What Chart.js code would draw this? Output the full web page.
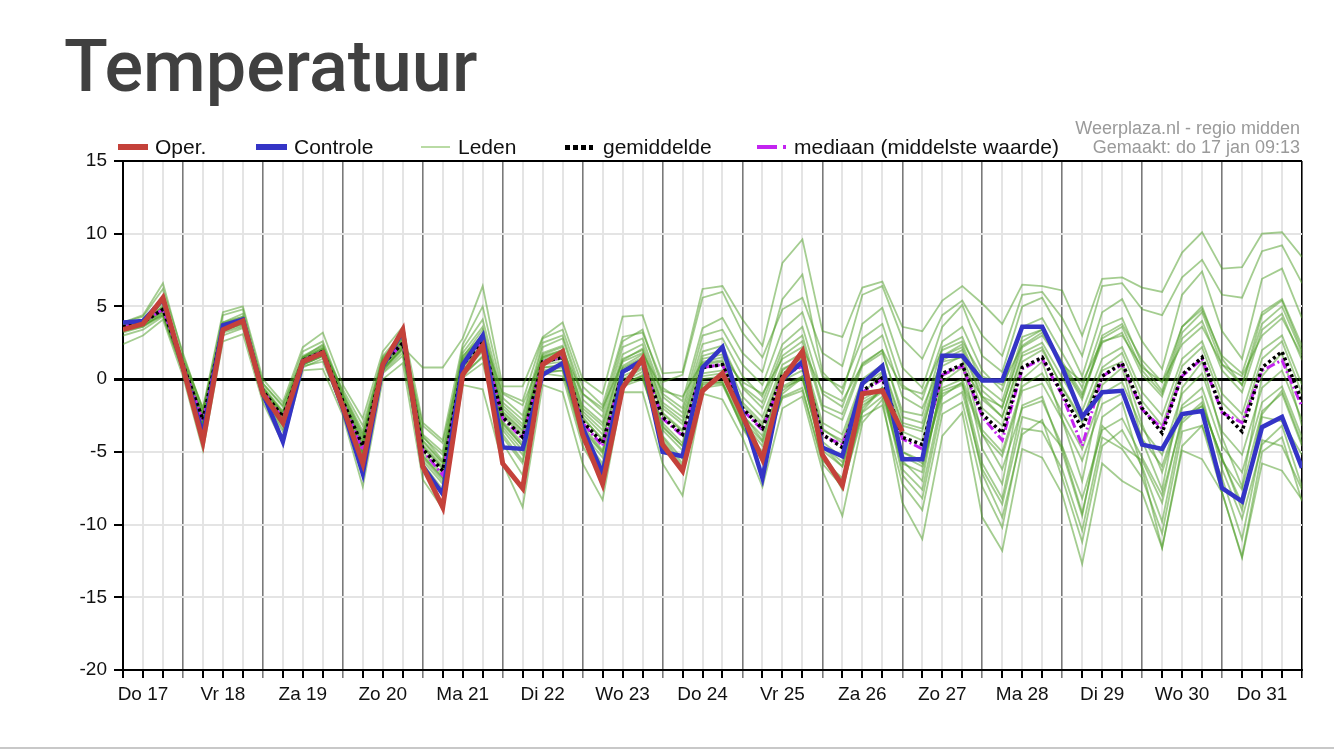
<!DOCTYPE html>
<html>
<head>
<meta charset="utf-8">
<script src="https://cdn.jsdelivr.net/npm/chart.js@4.4.1/dist/chart.umd.min.js"></script>
<style>
  html, body { margin: 0; padding: 0; background: #fff; }
  #wrap { position: relative; width: 1334px; height: 750px; overflow: hidden; font-family: 'Liberation Sans', Arial, sans-serif; }
  #title { position: absolute; left: 64px; top: 31px; font: 500 72px/72px Roboto, sans-serif; color: #404040; }
  canvas { position: absolute; left: 0; top: 0; }
  .lg { position: absolute; top: 136px; font-size: 21px; line-height: 21px; color: #111; white-space: nowrap; }
  .sw { position: absolute; }
  .note { position: absolute; right: 34px; font-size: 18px; line-height: 19px; color: #9a9a9a; text-align: right; white-space: nowrap; }
  #sep { position: absolute; left: 0; top: 747px; width: 1334px; height: 2px; background: #c8c8c8; }
</style>
</head>
<body>
<div id="wrap">
  <div id="title">Temperatuur</div>
  <canvas id="chart" width="1334" height="750"></canvas>

  <div class="sw" style="left:118px;top:144px;width:30px;height:6px;background:#c4413a"></div>
  <div class="lg" style="left:155px">Oper.</div>
  <div class="sw" style="left:256px;top:144px;width:31px;height:6px;background:#3434c6"></div>
  <div class="lg" style="left:294px">Controle</div>
  <div class="sw" style="left:421px;top:146px;width:29px;height:2px;background:#b9dba4"></div>
  <div class="lg" style="left:458px">Leden</div>
  <div class="sw" style="left:565px;top:145px;width:28px;height:5px;background:repeating-linear-gradient(90deg,#000 0 5px,transparent 5px 8px)"></div>
  <div class="lg" style="left:603px">gemiddelde</div>
  <div class="sw" style="left:757px;top:145px;width:31px;height:4px;background:linear-gradient(90deg,#c324f0 0 20px,transparent 20px 26px,#c324f0 26px 29px,transparent 29px)"></div>
  <div class="lg" style="left:794px">mediaan (middelste waarde)</div>

  <div class="note" style="top:119px">Weerplaza.nl - regio midden</div>
  <div class="note" style="top:138px">Gemaakt: do 17 jan 09:13</div>
  <div id="sep"></div>
</div>

<script>
'use strict';

// ── Axis: hours after Do 17 00:00, one point every 6 h ──────
const startHour = 6;
const endHour   = 360;
const stepHours = 6;
const dayLabels = ['Do 17', 'Vr 18', 'Za 19', 'Zo 20', 'Ma 21', 'Di 22', 'Wo 23', 'Do 24',
                   'Vr 25', 'Za 26', 'Zo 27', 'Ma 28', 'Di 29', 'Wo 30', 'Do 31'];
const yTicks    = [-20, -15, -10, -5, 0, 5, 10, 15];

const hours = [];
for (let h = startHour; h <= endHour; h += stepHours) hours.push(h);

// ── Series (°C) ────────────────────────────────────────────
const oper = [3.4, 3.8, 5.6, 0.8, -4.3, 3.4, 4.0, -1.0, -3.0, 1.2,
              1.8, -1.9, -5.8, 1.0, 3.4, -6.0, -8.8, 0.3, 2.3, -5.8,
              -7.5, 1.0, 1.9, -3.8, -7.2, -0.6, 1.4, -4.5, -6.3, -0.8,
              0.4, -2.5, -5.5, 0.0, 1.9, -5.2, -7.3, -1.0, -0.8, -3.6];

const controle = [3.9, 4.0, 5.5, 0.8, -3.8, 3.7, 4.1, -1.0, -4.3, 1.2,
                  1.8, -2.0, -6.5, 0.9, 3.3, -6.0, -7.9, 1.0, 3.0, -4.7,
                  -4.8, 0.3, 1.1, -3.3, -6.5, 0.5, 1.3, -5.0, -5.3, 0.8,
                  2.2, -2.3, -6.8, 0.0, 1.2, -4.7, -5.3, -0.3, 0.9, -5.5,
                  -5.5, 1.6, 1.6, -0.1, -0.1, 3.6, 3.6, 0.8, -2.6, -0.9,
                  -0.8, -4.5, -4.8, -2.4, -2.2, -7.5, -8.4, -3.3, -2.6, -6.1];

const gemiddelde = [3.6, 3.9, 4.8, 1.0, -2.8, 3.6, 4.0, -0.8, -2.6, 1.3,
                    1.9, -1.5, -4.6, 1.0, 2.5, -4.8, -6.3, 1.0, 2.6, -2.6,
                    -4.0, 1.2, 1.5, -2.9, -4.4, 0.5, 1.2, -2.6, -3.8, 0.8,
                    1.0, -2.0, -3.4, 0.3, 1.0, -3.8, -4.7, -0.8, 0.1, -4.0,
                    -4.5, 0.4, 1.0, -2.4, -3.7, 0.8, 1.5, -1.0, -3.4, 0.2,
                    1.1, -2.0, -3.7, 0.3, 1.5, -2.2, -3.6, 0.8, 1.9, -1.5];

const mediaan = [3.6, 3.9, 4.8, 1.0, -2.9, 3.6, 4.0, -0.8, -2.7, 1.3,
                 1.9, -1.6, -4.9, 1.0, 2.5, -4.9, -6.6, 1.0, 2.6, -2.7,
                 -4.1, 1.2, 1.5, -3.0, -4.6, 0.5, 1.2, -2.7, -3.9, 0.8,
                 1.0, -2.1, -3.5, 0.2, 0.9, -3.9, -4.5, -0.9, 0.0, -4.1,
                 -4.8, 0.3, 0.9, -2.6, -4.2, 0.7, 1.4, -1.1, -4.6, 0.2,
                 1.0, -2.1, -3.4, 0.2, 1.4, -2.3, -3.0, 0.6, 1.3, -1.9];

// Ensemble members (Leden)
const leden = [
  [3.9, 4.3, 6.2, 1.8, -2.2, 4.4, 4.8, -0.3, -1.9, 1.9,
   2.6, -0.9, -3.6, 1.6, 3.2, -3.8, -5.0, 2.1, 4.1, -1.3,
   -2.5, 2.5, 3.0, -1.0, -2.2, 2.6, 3.4, -0.6, -1.5, 3.5,
   4.2, 1.8, 0.5, 5.5, 7.2, 0.5, -1.0, 3.8, 4.9, 0.8,
   -0.6, 3.6, 5.1, 1.6, 0.5, 5.0, 5.6, 3.1, 0.2, 4.6,
   5.5, 2.6, 0.7, 5.8, 7.4, 3.3, 1.4, 6.9, 7.6, 4.2],
  [3.2, 3.6, 4.6, 0.6, -3.1, 3.3, 3.9, -1.1, -3.0, 1.0,
   1.6, -1.8, -5.0, 0.6, 2.2, 0.8, 0.8, 2.8, 6.4, -0.5,
   -0.5, 2.9, 3.9, 0.0, -1.0, 4.3, 4.4, 0.4, 0.5, 6.2,
   6.4, 4.1, 2.3, 8.0, 9.6, 3.3, 2.9, 6.3, 6.7, 3.6,
   3.3, 5.4, 6.4, 5.2, 3.8, 6.5, 6.4, 6.1, 3.0, 6.9,
   7.0, 6.3, 6.0, 8.7, 10.1, 7.6, 7.7, 10.0, 10.1, 8.4],
  [2.4, 3.0, 4.1, 0.2, -4.9, 2.6, 3.1, -1.6, -4.4, 0.6,
   0.7, -2.5, -7.4, 0.0, 1.1, -6.9, -8.9, -0.4, -0.7, -5.8,
   -8.8, -0.4, -0.9, -5.8, -8.3, -0.9, -0.9, -5.8, -8.0, -1.0,
   -1.4, -4.0, -7.4, -2.0, -1.2, -6.3, -9.4, -3.0, -1.4, -8.5,
   -11.0, -3.9, -2.3, -9.5, -11.8, -4.8, -5.4, -7.9, -12.7, -5.8,
   -7.0, -7.8, -11.6, -4.9, -5.5, -7.8, -12.3, -5.8, -6.3, -8.3],
  [3.0, 3.4, 4.3, 0.5, -3.5, 3.0, 3.5, -1.3, -3.6, 0.9,
   1.2, -2.1, -6.4, 0.4, 1.6, -5.9, -7.8, 0.1, 1.1, -4.4,
   -6.6, 0.4, 0.2, -4.6, -6.9, -0.3, 0.2, -4.5, -6.4, -0.4,
   -0.3, -3.2, -5.7, -1.0, 0.1, -5.2, -7.6, -2.2, -0.6, -6.6,
   -8.2, -1.7, -0.9, -6.2, -8.6, -2.6, -3.0, -4.7, -9.2, -3.2,
   -4.6, -5.6, -8.5, -2.5, -1.9, -5.4, -9.0, -2.6, -2.9, -5.2],
  [3.8, 4.1, 5.2, 1.3, -2.3, 3.9, 4.3, -0.5, -2.2, 1.6,
   2.3, -1.1, -3.9, 1.3, 2.9, -3.9, -5.6, 1.5, 3.4, -1.8,
   -3.1, 1.8, 2.3, -2.0, -3.2, 1.3, 2.1, -1.6, -2.6, 1.9,
   2.3, -0.6, -2.0, 1.6, 2.6, -2.1, -2.8, 0.9, 1.8, -2.2,
   -2.5, 2.2, 2.9, -0.4, -1.5, 2.9, 3.4, 1.2, -1.0, 2.5,
   3.2, 0.3, -1.2, 2.8, 4.0, 0.6, -0.9, 3.4, 4.5, 1.3],
  [3.5, 3.7, 4.5, 0.8, -3.2, 3.4, 3.8, -1.0, -3.0, 1.1,
   1.7, -1.8, -5.2, 0.7, 2.1, -5.4, -7.0, 0.6, 2.0, -3.3,
   -4.9, 0.8, 0.9, -3.7, -5.4, -0.2, 0.5, -3.5, -4.9, 0.0,
   0.2, -2.9, -4.6, -0.6, 0.0, -4.9, -6.0, -1.8, -0.9, -5.3,
   -6.0, -0.8, -0.3, -3.8, -5.3, -0.8, -0.3, -2.8, -5.6, -1.7,
   -1.0, -4.1, -6.0, -1.8, -0.6, -4.6, -6.4, -1.6, -0.5, -4.0],
  [3.7, 4.0, 5.0, 1.1, -2.6, 3.8, 4.1, -0.7, -2.4, 1.4,
   2.0, -1.3, -4.2, 1.2, 2.7, -4.2, -5.7, 1.4, 3.0, -2.0,
   -3.3, 1.7, 2.2, -1.8, -3.0, 1.7, 2.4, -1.2, -2.3, 2.4,
   2.8, 0.2, -1.2, 2.4, 3.6, -1.0, -1.9, 2.0, 3.0, -1.2,
   -2.0, 1.2, 1.5, -3.8, -6.2, -2.0, -1.5, -4.6, -8.2, -3.5,
   -2.7, -5.4, -8.0, -2.8, -1.6, -5.6, -7.6, -2.2, -1.0, -4.6],
  [3.3, 3.8, 4.7, 0.9, -3.0, 3.5, 4.0, -1.0, -2.9, 1.2,
   1.8, -1.7, -5.3, 0.8, 2.2, -5.6, -7.2, 0.5, 1.9, -3.5,
   -5.2, 0.6, 0.8, -3.9, -5.8, -0.4, 0.3, -3.9, -5.5, -0.6,
   -0.4, -3.3, -5.0, -1.3, -0.8, -5.6, -6.8, -2.3, -1.2, -5.8,
   -6.4, -0.2, 0.8, -1.2, -1.9, 2.2, 3.0, 1.0, -1.2, 3.0,
   3.8, 1.3, -0.2, 3.6, 4.8, 1.6, 0.4, 4.6, 5.5, 2.3],
  [3.6, 3.9, 4.9, 1.0, -2.9, 3.6, 4.1, -0.8, -2.5, 1.3,
   2.0, -1.4, -4.4, 1.1, 2.6, -4.5, -6.0, 1.2, 2.8, -2.3,
   -3.6, 1.5, 2.0, -2.2, -3.5, 1.4, 2.0, -1.8, -2.9, 1.6,
   2.0, -0.5, -1.6, 2.0, 3.0, -1.8, -2.4, 1.1, 2.0, -2.6,
   -3.0, 1.6, 2.2, -1.2, -2.6, 1.6, 2.2, -0.6, -3.0, 0.6,
   1.2, -3.1, -6.4, -2.0, -1.2, -6.2, -9.6, -4.5, -3.2, -7.4],
  [3.9, 4.4, 6.6, 1.6, -2.0, 4.6, 5.0, 0.0, -1.6, 2.2,
   3.2, -0.4, -2.7, 1.9, 3.6, -3.0, -4.2, 2.4, 5.0, -0.9,
   -1.5, 2.8, 3.4, -0.5, -1.8, 2.9, 3.2, -0.2, 0.3, 5.6,
   6.0, 3.2, 1.5, 4.8, 5.6, 1.8, 0.9, 5.8, 6.4, 2.8,
   1.4, 4.4, 5.4, 3.0, 1.6, 5.8, 6.0, 4.2, 1.6, 6.4,
   6.6, 4.8, 4.4, 7.0, 8.2, 5.8, 5.6, 8.8, 9.2, 6.6],
  [3.5, 3.9, 4.6, 1.0, -2.7, 3.7, 3.9, -0.9, -2.7, 1.2,
   1.9, -1.6, -4.8, 0.9, 2.4, -5.0, -6.6, 0.8, 2.3, -2.9,
   -4.4, 1.0, 1.2, -3.2, -4.9, 0.2, 0.8, -3.0, -4.4, 0.4,
   0.6, -2.5, -3.9, -0.1, 0.6, -4.3, -5.4, -1.4, -0.6, -5.0,
   -5.8, -1.0, -0.4, -6.5, -9.5, -3.8, -2.8, -6.8, -11.2, -4.6,
   -3.5, -6.0, -9.8, -3.0, -1.8, -5.5, -8.6, -2.4, -0.8, -4.4],
  [3.7, 4.0, 4.9, 1.4, -2.0, 3.6, 4.2, -0.3, -1.8, 1.5,
   2.1, -0.7, -3.2, 1.5, 2.8, -3.2, -4.4, 1.6, 3.0, -1.0,
   -1.8, 1.6, 2.0, -1.0, -2.0, 1.2, 1.8, -0.8, -1.2, 1.2,
   1.5, -0.2, -1.0, 1.4, 2.2, -0.8, -1.5, 1.0, 2.0, -0.6,
   -1.0, 2.0, 2.6, 0.2, -0.4, 2.3, 3.2, 1.0, -0.2, 2.6,
   3.0, 0.8, -0.2, 2.4, 3.6, 1.0, 0.2, 3.0, 4.2, 1.6],
  [3.6, 3.8, 4.7, 0.9, -3.0, 3.5, 3.9, -0.9, -2.8, 1.2,
   1.8, -1.7, -5.0, 0.9, 2.3, -5.2, -6.8, 0.8, 2.4, -3.0,
   -4.6, 1.1, 1.4, -3.4, -5.0, 0.6, 1.2, -3.2, -4.6, 0.8,
   1.0, -2.4, -4.2, 0.4, 1.2, -4.6, -6.0, -1.0, 0.4, -5.6,
   -7.0, 0.2, 1.0, -4.8, -7.2, 0.0, 1.2, -2.8, -7.0, -0.4,
   0.8, -4.2, -7.6, -0.6, 1.2, -4.0, -7.4, 0.2, 1.8, -3.2],
  [3.4, 3.8, 5.4, 1.2, -2.5, 3.9, 4.5, -0.6, -2.3, 1.5,
   2.4, -1.0, -3.8, 1.4, 3.0, -4.0, -5.2, 1.8, 3.6, -1.6,
   -2.8, 2.2, 2.8, -1.4, -2.6, 2.2, 2.8, -1.0, -2.0, 3.0,
   3.4, 1.0, -0.4, 3.4, 4.6, 0.2, -0.6, 2.8, 3.8, -0.4,
   -1.4, 2.6, 3.6, 0.6, -0.8, 3.6, 4.2, 1.8, -0.6, 3.6,
   4.2, 1.0, -0.8, 3.6, 5.0, 1.4, -0.4, 4.4, 5.4, 2.0],
  [3.8, 4.0, 4.8, 1.0, -3.3, 3.4, 3.8, -1.2, -3.4, 1.0,
   1.6, -2.0, -5.8, 0.6, 2.0, -6.0, -8.0, 0.2, 1.6, -4.0,
   -5.8, 0.4, 0.6, -4.2, -6.2, -0.4, 0.2, -4.2, -6.0, -0.2,
   -0.2, -3.0, -5.2, -0.8, 0.2, -5.2, -7.0, -2.0, -0.6, -6.2,
   -7.6, -1.2, -0.2, -5.8, -8.2, -1.8, -1.2, -5.0, -9.4, -2.6,
   -1.6, -6.2, -11.6, -4.6, -3.2, -7.8, -12.2, -5.0, -4.0, -8.4],
  [3.7, 4.1, 5.4, 1.2, -2.5, 3.8, 4.3, -0.6, -2.3, 1.5,
   2.2, -1.2, -4.1, 1.2, 2.8, -4.3, -5.8, 1.3, 3.1, -2.2,
   -3.5, 1.5, 1.9, -2.4, -3.8, 0.9, 1.7, -2.0, -3.1, 1.4,
   1.7, -1.2, -2.6, 1.0, 1.8, -3.0, -3.8, 0.0, 1.0, -3.0,
   -3.4, 1.3, 2.0, -1.4, -2.6, 1.8, 2.5, 0.1, -2.2, 1.4,
   2.2, -0.9, -2.5, 1.4, 2.6, -1.0, -2.4, 2.0, 3.0, -0.4],
  [3.4, 3.7, 4.4, 0.7, -3.1, 3.3, 3.7, -1.1, -2.9, 1.0,
   1.6, -1.9, -5.0, 0.7, 2.1, -5.3, -6.8, 0.6, 2.1, -3.1,
   -4.6, 0.8, 1.0, -3.5, -5.1, 0.0, 0.7, -3.3, -4.6, 0.2,
   0.4, -2.8, -4.3, -0.5, 0.2, -4.6, -5.7, -1.6, -0.8, -5.0,
   -5.6, -0.6, 0.0, -3.5, -5.0, -0.5, 0.4, -2.3, -4.8, -1.0,
   -0.2, -3.4, -5.2, -1.0, 0.4, -3.6, -5.2, -0.6, 0.6, -2.8],
  [3.6, 4.0, 5.0, 0.8, -3.0, 3.7, 4.2, -0.9, -2.8, 1.4,
   2.1, -1.4, -4.6, 1.2, 2.6, -4.7, -6.2, 1.1, 2.7, -2.5,
   -4.0, 1.4, 1.7, -2.6, -4.2, 0.8, 1.5, -2.3, -3.5, 1.1,
   1.3, -1.6, -3.0, 0.7, 1.4, -3.4, -4.4, -0.4, 0.5, -3.6,
   -4.2, 0.9, 1.6, -2.0, -3.2, 1.2, 2.0, -0.5, -2.8, 0.8,
   1.8, -1.5, -3.2, 0.9, 2.2, -1.6, -3.0, 1.4, 2.6, -1.0],
  [3.5, 3.8, 4.9, 1.1, -2.7, 3.5, 4.0, -0.7, -2.5, 1.3,
   1.9, -1.5, -4.5, 1.0, 2.5, -4.6, -6.1, 1.0, 2.5, -2.4,
   -3.8, 1.3, 1.6, -2.7, -4.1, 0.7, 1.4, -2.4, -3.6, 1.0,
   1.2, -1.8, -3.2, 0.6, 1.5, -3.5, -4.2, -0.2, 0.8, -3.2,
   -3.6, 1.6, 2.4, -0.8, -2.0, 2.6, 3.4, 0.9, -1.4, 2.8,
   3.6, 0.6, -1.0, 3.2, 4.6, 1.0, -0.4, 3.8, 5.0, 1.8],
  [3.3, 3.6, 4.4, 0.6, -3.4, 3.2, 3.6, -1.3, -3.2, 0.8,
   1.4, -2.2, -5.6, 0.5, 1.8, -5.8, -7.6, 0.3, 1.5, -3.8,
   -5.6, 0.5, 0.6, -4.1, -6.0, -0.5, 0.0, -4.0, -5.8, -0.3,
   -0.2, -3.4, -5.4, -1.2, -0.6, -5.8, -7.4, -2.6, -1.8, -7.2,
   -9.0, -2.4, -1.6, -7.4, -10.2, -3.4, -3.6, -6.2, -10.4, -4.0,
   -4.8, -6.8, -10.6, -3.6, -3.2, -6.8, -11.0, -4.2, -4.6, -7.6]
];

// ── Colours ────────────────────────────────────────────────
const C_OPER  = '#c4413a';
const C_CTRL  = '#3434c6';
const C_LEDEN = 'rgba(74, 156, 34, 0.50)';
const C_MEAN  = '#000000';
const C_MED   = '#c324f0';
const C_GRID  = '#e4e4e4';
const C_DAY   = '#7a7a7a';

// ── Datasets (index 0 is drawn on top) ─────────────────────
const line = (data, color, width, dash) => ({
  data, borderColor: color, borderWidth: width, borderDash: dash || [],
  pointRadius: 0, tension: 0, fill: false, spanGaps: false
});

const datasets = [
  line(oper, C_OPER, 5),
  line(controle, C_CTRL, 4.5),
  Object.assign(line(gemiddelde, C_MEAN, 3.5, [3, 3]), { borderCapStyle: 'butt' }),
  line(mediaan, C_MED, 3, [9, 3, 2, 3]),
  ...leden.map(m => line(m, C_LEDEN, 1.8))
];

const tickFont = { family: "'Liberation Sans', Arial, sans-serif", size: 19 };

new Chart(document.getElementById('chart').getContext('2d'), {
  type: 'line',
  data: { labels: hours, datasets },
  options: {
    responsive: false,
    animation: false,
    events: [],
    layout: { padding: { left: 0, top: 161, right: 32, bottom: 35 } },
    plugins: { legend: { display: false }, tooltip: { enabled: false } },
    scales: {
      x: {
        type: 'linear',
        min: startHour,
        max: endHour,
        afterFit: s => { s.height = 45; },
        border: { color: '#000', width: 2 },
        grid: {
          color: c => c.tick.value === endHour ? '#000' : (c.tick.value % 24 === 0 ? C_DAY : C_GRID),
          lineWidth: c => c.tick.value % 24 === 0 ? 1.6 : 2,
          tickColor: c => c.tick.value % 24 === 0 && c.tick.value !== endHour ? C_DAY : '#000',
          tickLength: 8
        },
        ticks: {
          stepSize: stepHours,
          autoSkip: false,
          maxRotation: 0,
          padding: 5,
          color: '#111',
          font: tickFont,
          callback: v => (v % 24 === 12 ? dayLabels[(v - 12) / 24] : '')
        }
      },
      y: {
        min: yTicks[0],
        max: yTicks[yTicks.length - 1],
        afterFit: s => { s.width = 123; },
        border: { color: '#000', width: 2 },
        grid: {
          color: c => (c.tick.value === 0 || c.tick.value === 15) ? '#000' : C_GRID,
          lineWidth: c => c.tick.value === 0 ? 3 : 2,
          tickColor: '#000',
          tickLength: 9
        },
        ticks: {
          stepSize: 5,
          padding: 7,
          color: '#111',
          font: tickFont
        }
      }
    }
  }
});
</script>
</body>
</html>
